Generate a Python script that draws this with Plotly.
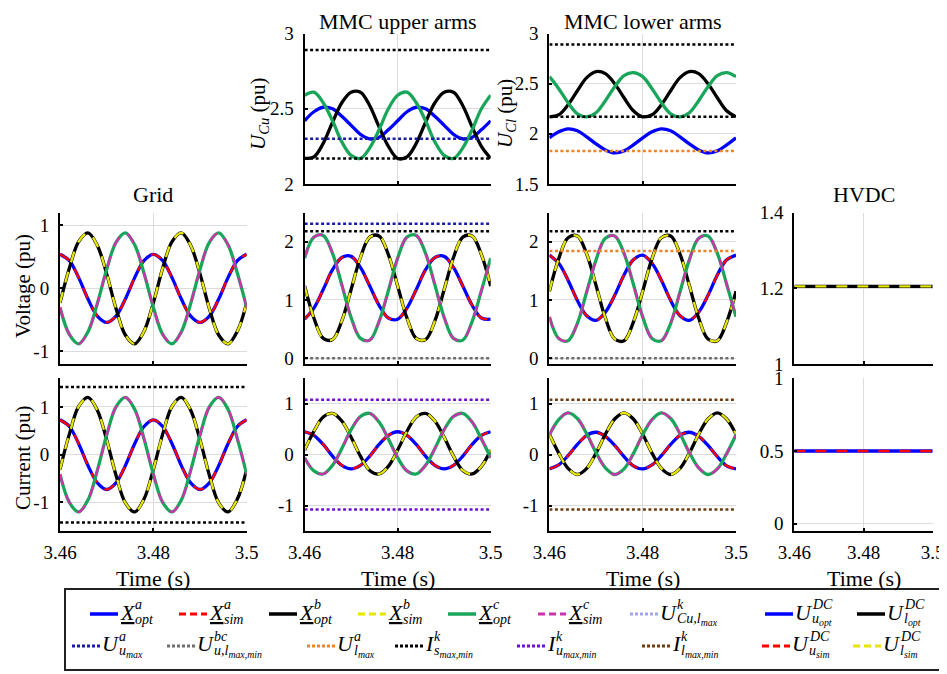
import plotly.graph_objects as go

# The page body has an 8 px margin, so the figure is drawn 8 px in from the
# window corner; all layout positions below are given in window pixels.
WIN_W, WIN_H = 947, 674
OFF = 8
W, H = WIN_W - OFF, WIN_H - OFF
FONT = "Liberation Serif"

# ---------------- data ----------------
TIME = [3.460, 3.462, 3.464, 3.466, 3.468, 3.470, 3.472, 3.474, 3.476, 3.478,
        3.480, 3.482, 3.484, 3.486, 3.488, 3.490, 3.492, 3.494, 3.496, 3.498, 3.500]
TIME_ENDS = [3.46, 3.50]
X_TICKS = [3.46, 3.48, 3.50]
X_TICK_TEXT = ["3.46", "3.48", "3.5"]

# Grid voltage (pu)
grid_v_a = [0.54, 0.44, 0.17, -0.17, -0.44, -0.54, -0.44, -0.17, 0.17, 0.44,
            0.54, 0.44, 0.17, -0.17, -0.44, -0.54, -0.44, -0.17, 0.17, 0.44, 0.54]
grid_v_b = [-0.23, 0.32, 0.74, 0.88, 0.68, 0.23, -0.32, -0.74, -0.88, -0.68,
            -0.23, 0.32, 0.74, 0.88, 0.68, 0.23, -0.32, -0.74, -0.88, -0.68, -0.23]
grid_v_c = [-0.30, -0.73, -0.88, -0.69, -0.24, 0.30, 0.73, 0.88, 0.69, 0.24,
            -0.30, -0.73, -0.88, -0.69, -0.24, 0.30, 0.73, 0.88, 0.69, 0.24, -0.30]
# Grid current (pu)
grid_i_a = [0.73, 0.59, 0.23, -0.23, -0.59, -0.73, -0.59, -0.23, 0.23, 0.59,
            0.73, 0.59, 0.23, -0.23, -0.59, -0.73, -0.59, -0.23, 0.23, 0.59, 0.73]
grid_i_b = [-0.31, 0.43, 1.01, 1.20, 0.93, 0.31, -0.43, -1.01, -1.20, -0.93,
            -0.31, 0.43, 1.01, 1.20, 0.93, 0.31, -0.43, -1.01, -1.20, -0.93, -0.31]
grid_i_c = [-0.41, -1.00, -1.20, -0.95, -0.33, 0.41, 1.00, 1.20, 0.95, 0.33,
            -0.41, -1.00, -1.20, -0.95, -0.33, 0.41, 1.00, 1.20, 0.95, 0.33, -0.41]
# MMC upper arm voltage (pu)
up_v_a = [0.67, 0.86, 1.18, 1.52, 1.73, 1.75, 1.56, 1.24, 0.91, 0.69,
          0.67, 0.86, 1.18, 1.52, 1.73, 1.75, 1.56, 1.24, 0.91, 0.69, 0.67]
up_v_b = [1.24, 0.69, 0.34, 0.32, 0.64, 1.18, 1.73, 2.08, 2.10, 1.78,
          1.24, 0.69, 0.34, 0.32, 0.64, 1.18, 1.73, 2.08, 2.10, 1.78, 1.24]
up_v_c = [1.72, 2.08, 2.11, 1.80, 1.26, 0.70, 0.34, 0.31, 0.63, 1.16,
          1.72, 2.08, 2.11, 1.80, 1.26, 0.70, 0.34, 0.31, 0.63, 1.16, 1.72]
# MMC upper arm current (pu)
up_i_a = [0.45, 0.38, 0.20, -0.03, -0.21, -0.28, -0.21, -0.03, 0.20, 0.38,
          0.45, 0.38, 0.20, -0.03, -0.21, -0.28, -0.21, -0.03, 0.20, 0.38, 0.45]
up_i_b = [0.09, 0.46, 0.74, 0.81, 0.66, 0.34, -0.03, -0.31, -0.38, -0.23,
          0.09, 0.46, 0.74, 0.81, 0.66, 0.34, -0.03, -0.31, -0.38, -0.23, 0.09]
up_i_c = [-0.06, -0.32, -0.38, -0.21, 0.12, 0.49, 0.75, 0.81, 0.64, 0.31,
          -0.06, -0.32, -0.38, -0.21, 0.12, 0.49, 0.75, 0.81, 0.64, 0.31, -0.06]
# MMC lower arm voltage (pu)
lo_v_a = [1.77, 1.63, 1.34, 0.99, 0.73, 0.65, 0.79, 1.08, 1.43, 1.69,
          1.77, 1.63, 1.34, 0.99, 0.73, 0.65, 0.79, 1.08, 1.43, 1.69, 1.77]
lo_v_b = [1.15, 1.71, 2.07, 2.10, 1.79, 1.25, 0.69, 0.33, 0.30, 0.62,
          1.15, 1.71, 2.07, 2.10, 1.79, 1.25, 0.69, 0.33, 0.30, 0.62, 1.15]
lo_v_c = [0.71, 0.34, 0.30, 0.60, 1.14, 1.69, 2.06, 2.10, 1.80, 1.27,
          0.71, 0.34, 0.30, 0.60, 1.14, 1.69, 2.06, 2.10, 1.80, 1.27, 0.71]
# MMC lower arm current (pu)
lo_i_a = [-0.28, -0.20, -0.02, 0.20, 0.38, 0.44, 0.36, 0.18, -0.04, -0.22,
          -0.28, -0.20, -0.02, 0.20, 0.38, 0.44, 0.36, 0.18, -0.04, -0.22, -0.28]
lo_i_b = [0.40, 0.03, -0.27, -0.39, -0.27, 0.03, 0.40, 0.70, 0.82, 0.70,
          0.40, 0.03, -0.27, -0.39, -0.27, 0.03, 0.40, 0.70, 0.82, 0.70, 0.40]
lo_i_c = [0.39, 0.69, 0.82, 0.71, 0.41, 0.04, -0.26, -0.39, -0.28, 0.02,
          0.39, 0.69, 0.82, 0.71, 0.41, 0.04, -0.26, -0.39, -0.28, 0.02, 0.39]
# Upper arm capacitor voltage U_Cu (pu)
cu_a = [2.42, 2.48, 2.51, 2.50, 2.45, 2.39, 2.33, 2.30, 2.31, 2.36,
        2.42, 2.48, 2.51, 2.50, 2.45, 2.39, 2.33, 2.30, 2.31, 2.36, 2.42]
cu_b = [2.17, 2.18, 2.27, 2.41, 2.54, 2.61, 2.61, 2.52, 2.38, 2.25,
        2.17, 2.18, 2.27, 2.41, 2.54, 2.61, 2.61, 2.52, 2.38, 2.25, 2.17]
cu_c = [2.59, 2.61, 2.54, 2.42, 2.28, 2.19, 2.17, 2.24, 2.36, 2.50,
        2.59, 2.61, 2.54, 2.42, 2.28, 2.19, 2.17, 2.24, 2.36, 2.50, 2.59]
# Lower arm capacitor voltage U_Cl (pu)
cl_a = [1.96, 2.02, 2.05, 2.03, 1.97, 1.90, 1.84, 1.81, 1.83, 1.89,
        1.96, 2.02, 2.05, 2.03, 1.97, 1.90, 1.84, 1.81, 1.83, 1.89, 1.96]
cl_b = [2.17, 2.19, 2.29, 2.43, 2.56, 2.62, 2.60, 2.50, 2.36, 2.23,
        2.17, 2.19, 2.29, 2.43, 2.56, 2.62, 2.60, 2.50, 2.36, 2.23, 2.17]
cl_c = [2.57, 2.45, 2.31, 2.20, 2.17, 2.21, 2.33, 2.47, 2.58, 2.61,
        2.57, 2.45, 2.31, 2.20, 2.17, 2.21, 2.33, 2.47, 2.58, 2.61, 2.57]
# HVDC side
hvdc_v = [1.205, 1.205]
hvdc_i = [0.50, 0.50]

# limits
cu_limits_black = [2.89, 2.17]
cu_limit_umax = 2.30
cl_limits_black = [2.89, 2.17]
cl_limit_lmax = 1.83
upv_limit_umax = 2.31
upv_limit_black = 2.18
lov_limit_black = 2.18
lov_limit_lmax = 1.84
v_limit_min = 0.0
grid_i_limits = [1.42, -1.42]
up_i_limits = [1.08, -1.08]
lo_i_limits = [1.08, -1.08]

# ---------------- styles ----------------
C_BLUE = "#0000FF"
C_RED = "#FF0000"
C_BLACK = "#000000"
C_YELLOW = "#E6E600"
C_GREEN = "#1AA65A"
C_MAGENTA = "#CC33AA"
C_LIGHT = "#A3A3F5"
C_NAVY = "#1A1AA8"
C_GRAY = "#6E6E6E"
C_ORANGE = "#F08228"
C_PURPLE = "#6E0FD2"
C_BROWN = "#6E3C0F"
DASH = "11px,10px"
DOT = "3px,2.5px"
W_OPT = 3.3
W_SIM = 2.3
W_LIM = 2.5


def fx(px):
    return (px - OFF) / W


def fy(py):
    return 1 - (py - OFF) / H


fig = go.Figure()


def sfx(i):
    return "" if i == 1 else str(i)


def wave(ax, y, color, width, dash="solid"):
    fig.add_trace(go.Scatter(
        x=TIME, y=y, xaxis="x" + sfx(ax), yaxis="y" + sfx(ax), mode="lines",
        line=dict(color=color, width=width, dash=dash, shape="spline", smoothing=1.0),
        showlegend=False, hoverinfo="skip"))


def level(ax, values, color, width=W_LIM, dash=DOT):
    fig.add_trace(go.Scatter(
        x=TIME_ENDS, y=values, xaxis="x" + sfx(ax), yaxis="y" + sfx(ax), mode="lines",
        line=dict(color=color, width=width, dash=dash),
        showlegend=False, hoverinfo="skip"))


def three_phase(ax, a, b, c, sim=True):
    wave(ax, a, C_BLUE, W_OPT)
    if sim:
        wave(ax, a, C_RED, W_SIM, DASH)
    wave(ax, b, C_BLACK, W_OPT)
    if sim:
        wave(ax, b, C_YELLOW, W_SIM, DASH)
    wave(ax, c, C_GREEN, W_OPT)
    if sim:
        wave(ax, c, C_MAGENTA, W_SIM, DASH)


three_phase(1, cu_a, cu_b, cu_c, sim=False)
for v in cu_limits_black:
    level(1, [v, v], C_BLACK)
level(1, [cu_limit_umax, cu_limit_umax], C_NAVY)

three_phase(2, cl_a, cl_b, cl_c, sim=False)
for v in cl_limits_black:
    level(2, [v, v], C_BLACK)
level(2, [cl_limit_lmax, cl_limit_lmax], C_ORANGE)

three_phase(3, grid_v_a, grid_v_b, grid_v_c)

three_phase(4, up_v_a, up_v_b, up_v_c)
level(4, [upv_limit_umax, upv_limit_umax], C_NAVY)
level(4, [upv_limit_black, upv_limit_black], C_BLACK)
level(4, [v_limit_min, v_limit_min], C_GRAY)

three_phase(5, lo_v_a, lo_v_b, lo_v_c)
level(5, [lov_limit_black, lov_limit_black], C_BLACK)
level(5, [lov_limit_lmax, lov_limit_lmax], C_ORANGE)
level(5, [v_limit_min, v_limit_min], C_GRAY)

level(6, hvdc_v, C_BLACK, W_OPT, "solid")
level(6, hvdc_v, C_YELLOW, W_SIM, DASH)

three_phase(7, grid_i_a, grid_i_b, grid_i_c)
for v in grid_i_limits:
    level(7, [v, v], C_BLACK)

three_phase(8, up_i_a, up_i_b, up_i_c)
for v in up_i_limits:
    level(8, [v, v], C_PURPLE)

three_phase(9, lo_i_a, lo_i_b, lo_i_c)
for v in lo_i_limits:
    level(9, [v, v], C_BROWN)

level(10, hvdc_i, C_BLUE, W_OPT, "solid")
level(10, hvdc_i, C_RED, W_SIM, DASH)

# ---------------- layout ----------------
COLS = [(60, 246.7), (304.6, 490.7), (549.4, 736), (794.3, 932.7)]
ROW_TOP = (33.5, 184)
ROW_MID = (212.7, 364)
ROW_BOT = (378.3, 531)

PANELS = {
    1: dict(col=1, row=ROW_TOP, yr=[2, 3], yt=[2, 2.5, 3], ytt=["2", "2.5", "3"]),
    2: dict(col=2, row=ROW_TOP, yr=[1.5, 3], yt=[1.5, 2, 2.5, 3], ytt=["1.5", "2", "2.5", "3"]),
    3: dict(col=0, row=ROW_MID, yr=[-1.2, 1.2], yt=[-1, 0, 1], ytt=["-1", "0", "1"]),
    4: dict(col=1, row=ROW_MID, yr=[-0.1, 2.5], yt=[0, 1, 2], ytt=["0", "1", "2"]),
    5: dict(col=2, row=ROW_MID, yr=[-0.1, 2.5], yt=[0, 1, 2], ytt=["0", "1", "2"]),
    6: dict(col=3, row=ROW_MID, yr=[1, 1.4], yt=[1, 1.2, 1.4], ytt=["1", "1.2", "1.4"]),
    7: dict(col=0, row=ROW_BOT, yr=[-1.6, 1.6], yt=[-1, 0, 1], ytt=["-1", "0", "1"]),
    8: dict(col=1, row=ROW_BOT, yr=[-1.5, 1.5], yt=[-1, 0, 1], ytt=["-1", "0", "1"]),
    9: dict(col=2, row=ROW_BOT, yr=[-1.5, 1.5], yt=[-1, 0, 1], ytt=["-1", "0", "1"]),
    10: dict(col=3, row=ROW_BOT, yr=[-0.05, 1], yt=[0, 0.5, 1], ytt=["0", "0.5", "1"]),
}

TICK_FONT = dict(family=FONT, size=19, color="black")
YTITLE_FONT = dict(family=FONT, size=21, color="black")
XTITLE_FONT = dict(family=FONT, size=22, color="black")
PTITLE_FONT = dict(family=FONT, size=22, color="black")
GRID = "#DCDCDC"

layout = dict(
    width=W, height=H, margin=dict(l=0, r=0, t=0, b=0),
    paper_bgcolor="white", plot_bgcolor="white", showlegend=False,
    font=dict(family=FONT, color="black"),
)
annotations = []
shapes = []


def note(text, x, y, font, **kw):
    d = dict(text=text, x=fx(x), y=fy(y), xref="paper", yref="paper", showarrow=False,
             xanchor="center", yanchor="middle", font=font)
    d.update(kw)
    annotations.append(d)


for i, p in PANELS.items():
    x0, x1 = COLS[p["col"]]
    y0, y1 = p["row"]
    s = sfx(i)
    bottom = p["row"] == ROW_BOT
    layout["xaxis" + s] = dict(
        domain=[fx(x0), fx(x1)], range=[3.46, 3.5], anchor="y" + s,
        tickmode="array", tickvals=X_TICKS, ticktext=X_TICK_TEXT,
        showticklabels=bottom, ticks="inside", ticklen=3, tickwidth=1.5, tickcolor="black",
        showline=True, linecolor="black", linewidth=2, showgrid=True, gridcolor=GRID,
        gridwidth=1, zeroline=False, tickfont=TICK_FONT, ticklabelstandoff=3,
        automargin=False, fixedrange=True)
    layout["yaxis" + s] = dict(
        domain=[fy(y1), fy(y0)], range=p["yr"], anchor="x" + s,
        tickmode="array", tickvals=p["yt"], ticktext=p["ytt"],
        ticks="inside", ticklen=3, tickwidth=1.5, tickcolor="black",
        showline=True, linecolor="black", linewidth=2, showgrid=True, gridcolor=GRID,
        gridwidth=1, zeroline=False, tickfont=TICK_FONT, ticklabelstandoff=5,
        automargin=False, fixedrange=True)
    if bottom:
        note("Time (s)", (x0 + x1) / 2, 578, XTITLE_FONT)

# panel titles (the top two sit flush with the top edge of the figure)
note("MMC upper arms", 398, OFF, PTITLE_FONT, yanchor="top", borderpad=0)
note("MMC lower arms", 643, OFF, PTITLE_FONT, yanchor="top", borderpad=0)
note("Grid", 153, 195, PTITLE_FONT)
note("HVDC", 864, 194, PTITLE_FONT)

for txt, xc, yc in [("Voltage (pu)", 23, 286), ("Current (pu)", 23, 458),
                    ("<i>U</i><sub><i>Cu</i></sub> (pu)", 259, 114),
                    ("<i>U</i><sub><i>Cl</i></sub> (pu)", 506, 114)]:
    note(txt, xc, yc, YTITLE_FONT, textangle=-90)

# ---------------- legend (drawn below the panels) ----------------
LEG_BOX = (65, 589, 945, 670)
shapes.append(dict(type="rect", xref="paper", yref="paper",
                   x0=fx(LEG_BOX[0]), x1=fx(LEG_BOX[2]),
                   y0=fy(LEG_BOX[3]), y1=fy(LEG_BOX[1]),
                   line=dict(color="#222222", width=2), fillcolor="rgba(0,0,0,0)"))
LEG_DASH = "7px,4px"
LEG_DOT = "3px,2px"
ROWS_Y = [dict(line=614, base=612, sup=604, sub=619),
          dict(line=646, base=643, sup=636, sub=651)]
BASE_W = {"X": 15.0, "U": 16.5, "I": 8.5}
LEGEND = [
    (90, 0, C_BLUE, "solid", "X", "a", "opt", True),
    (179, 0, C_RED, LEG_DASH, "X", "a", "sim", True),
    (269, 0, C_BLACK, "solid", "X", "b", "opt", True),
    (358, 0, C_YELLOW, LEG_DASH, "X", "b", "sim", True),
    (448, 0, C_GREEN, "solid", "X", "c", "opt", True),
    (538, 0, C_MAGENTA, LEG_DASH, "X", "c", "sim", True),
    (630, 0, C_LIGHT, LEG_DOT, "U", "k", "Cu,l<sub>max</sub>", False),
    (765, 0, C_BLUE, "solid", "U", "DC", "u<sub>opt</sub>", False),
    (857, 0, C_BLACK, "solid", "U", "DC", "l<sub>opt</sub>", False),
    (72, 1, C_NAVY, LEG_DOT, "U", "a", "u<sub>max</sub>", False),
    (167, 1, C_GRAY, LEG_DOT, "U", "bc", "u,l<sub>max,min</sub>", False),
    (307, 1, C_ORANGE, LEG_DOT, "U", "a", "l<sub>max</sub>", False),
    (395, 1, C_BLACK, LEG_DOT, "I", "k", "s<sub>max,min</sub>", False),
    (517, 1, C_PURPLE, LEG_DOT, "I", "k", "u<sub>max,min</sub>", False),
    (642, 1, C_BROWN, LEG_DOT, "I", "k", "l<sub>max,min</sub>", False),
    (762, 1, C_RED, LEG_DASH, "U", "DC", "u<sub>sim</sub>", False),
    (853, 1, C_YELLOW, LEG_DASH, "U", "DC", "l<sub>sim</sub>", False),
]
SAMPLE_LEN = 28
BASE_FONT = dict(family=FONT, size=22, color="black")
SCRIPT_FONT = dict(family=FONT, size=14, color="black")
for (xs, r, color, dash, base, sup, sub, und) in LEGEND:
    ry = ROWS_Y[r]
    width = 3.5 if dash == "solid" else 3
    shapes.append(dict(type="line", xref="paper", yref="paper",
                       x0=fx(xs), x1=fx(xs + SAMPLE_LEN), y0=fy(ry["line"]), y1=fy(ry["line"]),
                       line=dict(color=color, width=width, dash=dash)))
    tx = xs + SAMPLE_LEN + 1
    btxt = "<i>" + base + "</i>"
    if und:
        btxt = "<u>" + btxt + "</u>"
    note(btxt, tx, ry["base"], BASE_FONT, xanchor="left", borderpad=0)
    sx = tx + BASE_W[base]
    note("<i>" + sup + "</i>", sx, ry["sup"], SCRIPT_FONT, xanchor="left", borderpad=0)
    note("<i>" + sub + "</i>", sx, ry["sub"], SCRIPT_FONT, xanchor="left", borderpad=0)

layout["annotations"] = annotations
layout["shapes"] = shapes
fig.update_layout(**layout)
fig.write_html("out.html")
